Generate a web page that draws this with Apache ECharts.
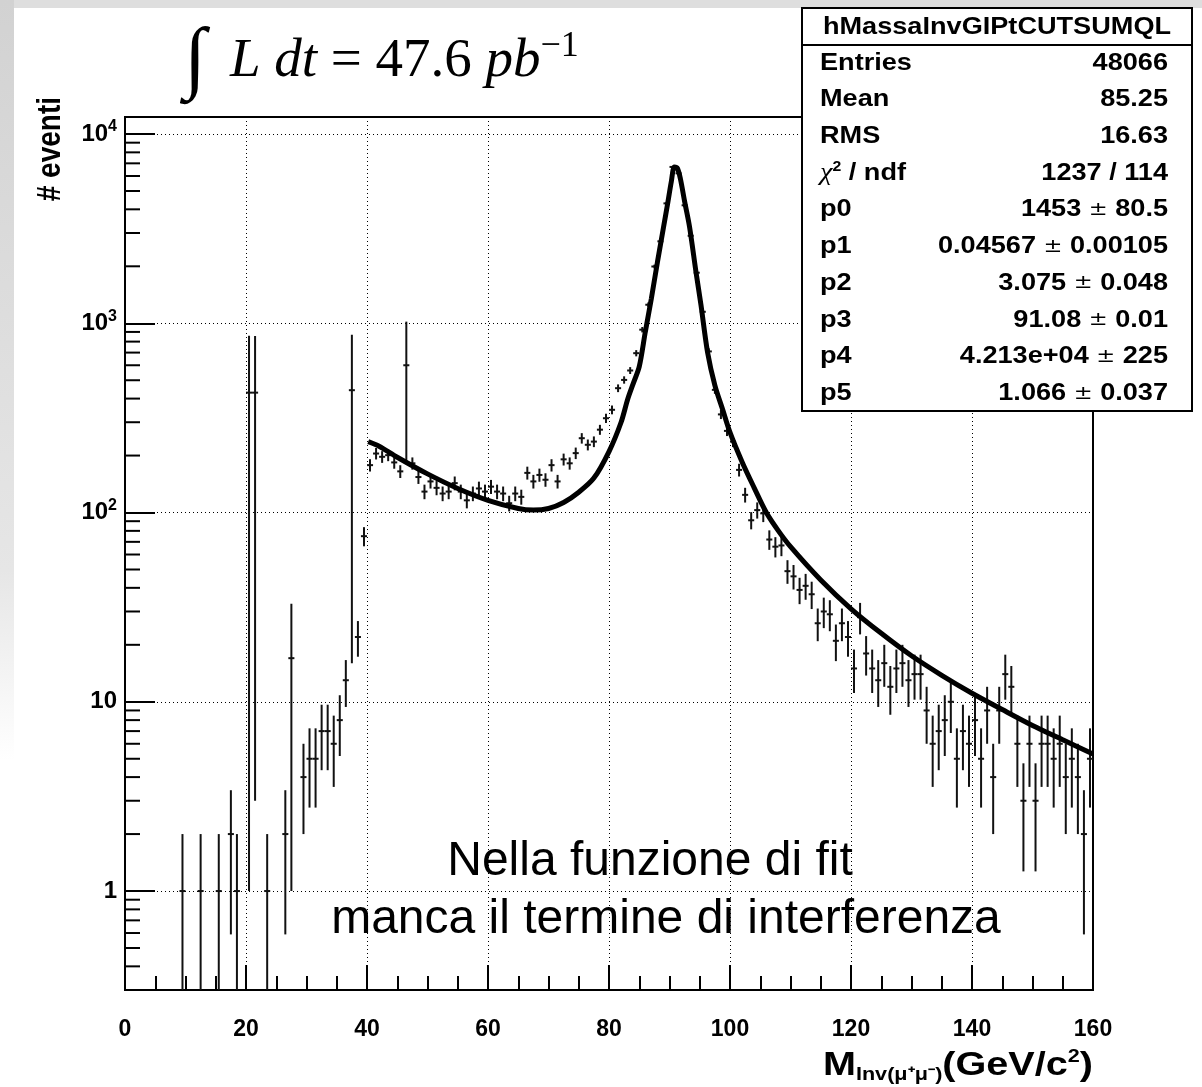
<!DOCTYPE html>
<html>
<head>
<meta charset="utf-8">
<title>Massa invariante mu+mu-</title>
<script src="https://cdn.jsdelivr.net/npm/echarts@6.0.0/dist/echarts.min.js"></script>
<style>
  html, body { margin: 0; padding: 0; background: #fff; }
  #chart { width: 1202px; height: 1087px; }
</style>
</head>
<body>
<div id="chart"></div>
<script>
// assi
const xMin = 0, xMax = 160, yMin = 0.3, yMax = 12300;
const yTickValues = [1, 10, 100, 1000, 10000];
const yTickText = ['1', '10', '10{s|2}', '10{s|3}', '10{s|4}'];

// istogramma: centro del bin (GeV), conteggi, errore
const binCenters = [
  9.5, 12.5, 15.5, 17.5, 18.5, 20.5, 21.5, 23.5, 26.5, 27.5,
  29.5, 30.5, 31.5, 32.5, 33.5, 34.5, 35.5, 36.5, 37.5, 38.5, 39.5,
  40.5, 41.5, 42.5, 43.5, 44.5, 45.5, 46.5, 47.5, 48.5, 49.5,
  50.5, 51.5, 52.5, 53.5, 54.5, 55.5, 56.5, 57.5, 58.5, 59.5,
  60.5, 61.5, 62.5, 63.5, 64.5, 65.5, 66.5, 67.5, 68.5, 69.5,
  70.5, 71.5, 72.5, 73.5, 74.5, 75.5, 76.5, 77.5, 78.5, 79.5,
  80.5, 81.5, 82.5, 83.5, 84.5, 85.5, 86.5, 87.5, 88.5, 89.5,
  90.5, 91.5, 92.5, 93.5, 94.5, 95.5, 96.5, 97.5, 98.5, 99.5,
  100.5, 101.5, 102.5, 103.5, 104.5, 105.5, 106.5, 107.5, 108.5, 109.5,
  110.5, 111.5, 112.5, 113.5, 114.5, 115.5, 116.5, 117.5, 118.5, 119.5,
  120.5, 121.5, 122.5, 123.5, 124.5, 125.5, 126.5, 127.5, 128.5, 129.5,
  130.5, 131.5, 132.5, 133.5, 134.5, 135.5, 136.5, 137.5, 138.5, 139.5,
  140.5, 141.5, 142.5, 143.5, 144.5, 145.5, 146.5, 147.5, 148.5, 149.5,
  150.5, 151.5, 152.5, 153.5, 154.5, 155.5, 156.5, 157.5, 158.5, 159.5
];
const counts = [
  1, 1, 1, 2, 1, 430, 430, 1, 2, 17,
  4, 5, 5, 7, 7, 6, 8, 13, 443, 22, 75,
  178, 205, 197, 201, 184, 165, 600, 182, 154, 129,
  146, 135, 126, 129, 143, 129, 116, 126, 134, 129,
  137, 129, 126, 112, 126, 121, 162, 146, 158, 149,
  178, 146, 191, 182, 206, 247, 228, 237, 274, 315,
  349, 454, 502, 563, 695, 925, 1253, 1995, 2710, 4300,
  6700, 6200, 4200, 2900, 1850, 1150, 710, 445, 330, 270,
  237, 168, 124, 91, 103, 99, 72, 66, 67, 49,
  46, 39, 41, 37, 26, 30, 29, 21, 26, 22,
  15, 28, 18, 15, 13, 16, 12, 15, 16, 13,
  14, 14, 9, 6, 7, 8, 10, 5, 7, 6,
  8, 5, 9, 4, 9, 14, 12, 6, 3, 6,
  3, 6, 6, 5, 6, 4, 5, 4, 2, 5
];
const errors = [
  1, 1, 1, 1.41, 1, 429, 427, 1, 1.41, 16,
  2, 2.24, 2.24, 2.65, 2.65, 2.45, 2.83, 3.61, 427, 4.7, 8.7,
  13.3, 14.3, 14, 14.2, 13.6, 12.8, 420, 13.5, 12.4, 11.4,
  12.1, 11.6, 11.2, 11.4, 12, 11.4, 10.8, 11.2, 11.6, 11.4,
  11.7, 11.4, 11.2, 10.6, 11.2, 11, 12.7, 12.1, 12.6, 12.2,
  13.3, 12.1, 13.8, 13.5, 14.4, 15.7, 15.1, 15.4, 16.6, 17.7,
  18.7, 21.3, 22.4, 23.7, 26.4, 30.4, 35.4, 44.7, 52, 65.6,
  81.9, 78.7, 64.8, 53.9, 43, 33.9, 26.6, 21.1, 18.2, 16.4,
  15.4, 13, 11.1, 9.5, 10.1, 10, 8.5, 8.1, 8.2, 7,
  6.8, 6.2, 6.4, 6.1, 5.1, 5.5, 5.4, 4.6, 5.1, 4.7,
  3.87, 5.3, 4.24, 3.87, 3.61, 4, 3.46, 3.87, 4, 3.61,
  3.74, 3.74, 3, 2.45, 2.65, 2.83, 3.16, 2.24, 2.65, 2.45,
  2.83, 2.24, 3, 2, 3, 3.74, 3.46, 2.45, 1.73, 2.45,
  1.73, 2.45, 2.45, 2.24, 2.45, 2, 2.24, 2, 1.41, 2.24
];

// funzione di fit
const fitMass = [
  40.2, 42, 45, 50, 55, 60, 65, 67.5, 70, 72.5, 75, 77.5, 80, 82, 83.1, 84, 85,
  86, 87, 88, 89, 89.7, 90.3, 90.8, 91.3, 91.8, 92.5, 93.3, 94.4, 95.2, 96.3,
  97.5, 98.8, 100, 102, 104, 106, 108, 110, 115, 120, 125, 130, 135, 140,
  145, 150, 155, 160
];
const fitValues = [
  237, 224, 196, 160, 134, 116, 105, 103, 105, 113, 128, 152, 210, 300, 398, 480, 590,
  900, 1350, 2100, 3200, 4300, 5600, 6700, 6600, 5800, 4400, 3250, 1845, 1250, 700,
  470, 349, 265, 185, 135, 100, 80, 66, 44, 31, 23, 17.5, 13.8, 11.1,
  9.1, 7.5, 6.3, 5.3
];

// box statistico
const statsTitle = 'hMassaInvGIPtCUTSUMQL';
const statLabels = ['Entries', 'Mean', 'RMS', '{chi|\u03c7}{sup|2}{b| / ndf}', 'p0', 'p1', 'p2', 'p3', 'p4', 'p5'];
const statValues = [
  '48066', '85.25', '16.63', '1237 / 114',
  '1453 {pm|\u00b1} 80.5', '0.04567 {pm|\u00b1} 0.00105', '3.075 {pm|\u00b1} 0.048',
  '91.08 {pm|\u00b1} 0.01', '4.213e+04 {pm|\u00b1} 225', '1.066 {pm|\u00b1} 0.037'
];

const chart = echarts.init(document.getElementById('chart'));

const errorBarData = binCenters.map((m, i) => {
  const v = counts[i], e = errors[i];
  return [m, v, Math.max(v - e, yMin), Math.min(v + e, yMax)];
});

// tacche secondarie dell'asse log (2..9 x 10^k)
const yMinorTicks = [];
for (let k = -1; k <= 4; k++) {
  for (let d = 2; d <= 9; d++) {
    const v = d * Math.pow(10, k);
    if (v > yMin && v < yMax) yMinorTicks.push([0, v]);
  }
}

function renderErrorBar(params, api) {
  const m = api.value(0), v = api.value(1);
  const top = api.coord([m, api.value(3)]);
  const bot = api.coord([m, api.value(2)]);
  const l = api.coord([m - 0.5, v]);
  const r = api.coord([m + 0.5, v]);
  const st = { stroke: '#111', lineWidth: 2 };
  return {
    type: 'group',
    children: [
      { type: 'line', shape: { x1: top[0], y1: top[1], x2: bot[0], y2: bot[1] }, style: st },
      { type: 'line', shape: { x1: l[0], y1: l[1], x2: r[0], y2: r[1] }, style: st }
    ]
  };
}

function renderMinorTick(params, api) {
  const p = api.coord([api.value(0), api.value(1)]);
  return {
    type: 'line',
    shape: { x1: p[0], y1: p[1], x2: p[0] + 15, y2: p[1] },
    style: { stroke: '#000', lineWidth: 2 }
  };
}

const boldFont = 'Liberation Sans, Arial, sans-serif';
const statRich = {
  chi: { fontFamily: 'Liberation Serif, serif', fontSize: 25, fontStyle: 'italic', fill: '#000' },
  sup: { fontFamily: boldFont, fontSize: 14, fontWeight: 'bold', verticalAlign: 'top', lineHeight: 22 },
  b: { fontFamily: boldFont, fontSize: 24, fontWeight: 'bold' },
  pm: { fontFamily: 'DejaVu Sans, sans-serif', fontSize: 20, fontWeight: 'normal' }
};

const statTexts = [];
statLabels.forEach((lab, i) => {
  const y = 63 + i * 36.7;
  statTexts.push({
    type: 'text', x: 820, y: y, scaleX: 1.13, z: 101,
    style: {
      text: lab, align: 'left', verticalAlign: 'middle',
      fontFamily: boldFont, fontSize: 24, fontWeight: 'bold', fill: '#000', rich: statRich
    }
  });
  statTexts.push({
    type: 'text', x: 1168, y: y, scaleX: 1.13, z: 101,
    style: {
      text: statValues[i], align: 'right', verticalAlign: 'middle',
      fontFamily: boldFont, fontSize: 24, fontWeight: 'bold', fill: '#000', rich: statRich
    }
  });
});

const option = {
  animation: false,
  backgroundColor: '#fff',
  grid: {
    left: 125, right: 109, top: 117, bottom: 97,
    show: true, borderColor: '#000', borderWidth: 2, backgroundColor: 'transparent'
  },
  xAxis: {
    type: 'value', min: xMin, max: xMax, interval: 20,
    axisLine: { lineStyle: { color: '#000', width: 2 } },
    axisTick: { inside: true, length: 25, lineStyle: { color: '#000', width: 2 } },
    minorTick: { show: true, splitNumber: 4, length: 14, lineStyle: { color: '#000', width: 2 } },
    axisLabel: { color: '#000', fontFamily: boldFont, fontWeight: 'bold', fontSize: 23, margin: 28 },
    splitLine: { show: true, lineStyle: { color: '#000', width: 1, type: [1, 3] } }
  },
  yAxis: {
    type: 'log', logBase: 10, min: yMin, max: yMax,
    axisLine: { lineStyle: { color: '#000', width: 2 } },
    axisTick: { inside: true, length: 30, lineStyle: { color: '#000', width: 2 } },
    axisLabel: {
      color: '#000', fontFamily: boldFont, fontWeight: 'bold', fontSize: 24, margin: 8,
      formatter: function (value) {
        for (let i = 0; i < yTickValues.length; i++) {
          if (Math.abs(Math.log10(value) - Math.log10(yTickValues[i])) < 1e-6) return yTickText[i];
        }
        return '';
      },
      rich: { s: { fontFamily: boldFont, fontWeight: 'bold', fontSize: 16, verticalAlign: 'top', lineHeight: 30 } }
    },
    splitLine: { show: true, lineStyle: { color: '#000', width: 1, type: [1, 3] } }
  },
  series: [
    {
      type: 'custom', name: 'dati', renderItem: renderErrorBar, clip: true,
      encode: { x: 0, y: [1, 2, 3] }, data: errorBarData, z: 3
    },
    {
      type: 'custom', name: 'tacche', renderItem: renderMinorTick, clip: false,
      encode: { x: 0, y: 1 }, data: yMinorTicks, z: 4, silent: true
    },
    {
      type: 'line', name: 'fit', data: fitMass.map((m, i) => [m, fitValues[i]]),
      smooth: 0.3, showSymbol: false, symbol: 'none',
      lineStyle: { color: '#000', width: 5 }, z: 5, clip: true
    }
  ],
  graphic: [
    // cornice grigia della slide
    { type: 'rect', shape: { x: 0, y: 0, width: 1202, height: 8 }, style: { fill: '#dedede' }, z: 0 },
    {
      type: 'rect', shape: { x: 0, y: 0, width: 14, height: 760 }, z: 0,
      style: {
        fill: new echarts.graphic.LinearGradient(0, 0, 0, 1, [
          { offset: 0, color: '#d2d2d2' }, { offset: 0.75, color: '#e6e6e6' }, { offset: 1, color: '#ffffff' }
        ])
      }
    },
    // titolo
    {
      type: 'text', x: 184, y: 62, z: 100,
      style: {
        text: '{int|\u222b}{L|L}{it| dt}{rm| = 47.6 }{it|pb}{sup|\u22121}',
        align: 'left', verticalAlign: 'middle',
        rich: {
          int: { fontFamily: 'Liberation Serif, serif', fontSize: 80, fill: '#000' },
          L: { fontFamily: 'Liberation Serif, serif', fontSize: 55, fontStyle: 'italic', fill: '#000', padding: [0, 0, 0, 24] },
          it: { fontFamily: 'Liberation Serif, serif', fontSize: 55, fontStyle: 'italic', fill: '#000' },
          rm: { fontFamily: 'Liberation Serif, serif', fontSize: 55, fill: '#000' },
          sup: { fontFamily: 'Liberation Serif, serif', fontSize: 36, fill: '#000', verticalAlign: 'top', lineHeight: 80, padding: [7, 0, 0, 0] }
        }
      }
    },
    // titolo asse y
    {
      type: 'text', x: 51, y: 97, rotation: Math.PI / 2, scaleY: 1.18, z: 100,
      style: {
        text: '# eventi', align: 'right', verticalAlign: 'middle',
        fontFamily: boldFont, fontWeight: 'bold', fontSize: 28, fill: '#000'
      }
    },
    // titolo asse x
    {
      type: 'text', x: 1093, y: 1066, scaleX: 1.2, z: 100,
      style: {
        text: '{m|M}{sub|Inv(\u03bc\u207a\u03bc\u207b)}{m|(GeV/c}{sup|2}{m|)}',
        align: 'right', verticalAlign: 'middle',
        rich: {
          m: { fontFamily: boldFont, fontWeight: 'bold', fontSize: 33, fill: '#000' },
          sub: { fontFamily: boldFont, fontWeight: 'bold', fontSize: 18, fill: '#000', verticalAlign: 'bottom', lineHeight: 26 },
          sup: { fontFamily: boldFont, fontWeight: 'bold', fontSize: 18, fill: '#000', verticalAlign: 'top', lineHeight: 36 }
        }
      }
    },
    // box statistico
    {
      type: 'rect', shape: { x: 802, y: 8, width: 390, height: 403 }, z: 100,
      style: { fill: '#fff', stroke: '#000', lineWidth: 2 }
    },
    {
      type: 'line', shape: { x1: 802, y1: 45, x2: 1192, y2: 45 }, z: 101,
      style: { stroke: '#000', lineWidth: 2 }
    },
    {
      type: 'text', x: 997, y: 27, scaleX: 1.13, z: 101,
      style: {
        text: statsTitle, align: 'center', verticalAlign: 'middle',
        fontFamily: boldFont, fontWeight: 'bold', fontSize: 24, fill: '#000'
      }
    },
    ...statTexts,
    // annotazione
    {
      type: 'text', x: 650, y: 862, z: 100,
      style: {
        text: 'Nella funzione di fit', align: 'center', verticalAlign: 'middle',
        fontFamily: 'Liberation Sans, Arial, sans-serif', fontSize: 48, fill: '#000'
      }
    },
    {
      type: 'text', x: 666, y: 920, z: 100,
      style: {
        text: 'manca il termine di interferenza', align: 'center', verticalAlign: 'middle',
        fontFamily: 'Liberation Sans, Arial, sans-serif', fontSize: 48, fill: '#000'
      }
    }
  ]
};

chart.setOption(option);
window.addEventListener('resize', () => chart.resize());
</script>
</body>
</html>
